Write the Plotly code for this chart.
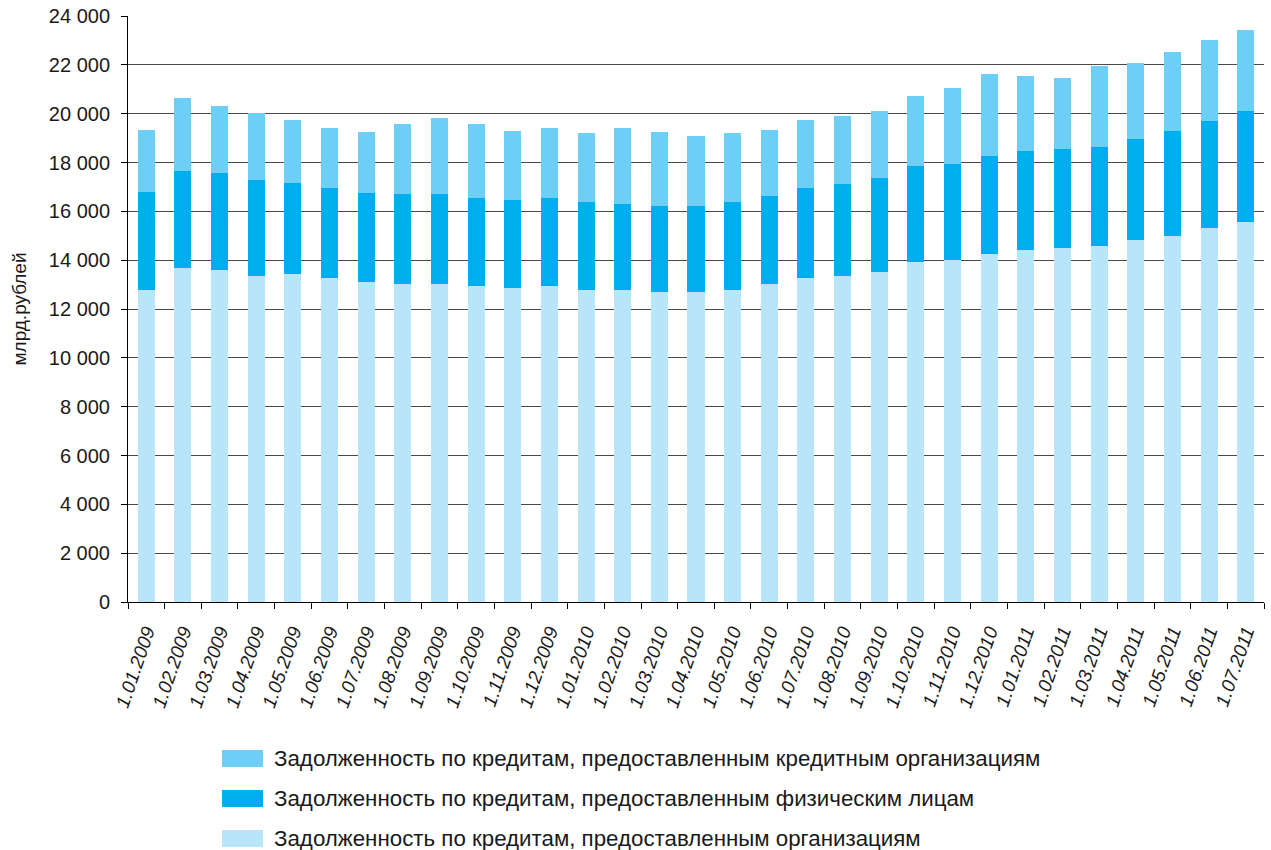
import plotly.graph_objects as go

categories = ["1.01.2009", "1.02.2009", "1.03.2009", "1.04.2009", "1.05.2009", "1.06.2009",
              "1.07.2009", "1.08.2009", "1.09.2009", "1.10.2009", "1.11.2009", "1.12.2009",
              "1.01.2010", "1.02.2010", "1.03.2010", "1.04.2010", "1.05.2010", "1.06.2010",
              "1.07.2010", "1.08.2010", "1.09.2010", "1.10.2010", "1.11.2010", "1.12.2010",
              "1.01.2011", "1.02.2011", "1.03.2011", "1.04.2011", "1.05.2011", "1.06.2011",
              "1.07.2011"]

# Задолженность по кредитам, предоставленным организациям (bottom)
loans_orgs = [12780, 13670, 13590, 13350, 13430, 13270, 13100, 13020, 13020, 12940, 12860,
              12940, 12780, 12780, 12690, 12690, 12780, 13020, 13270, 13350, 13510, 13920,
              14000, 14250, 14410, 14490, 14570, 14820, 14980, 15310, 15550]

# Задолженность по кредитам, предоставленным физическим лицам (middle)
loans_persons = [4000, 4000, 4000, 3920, 3750, 3670, 3670, 3670, 3670, 3590, 3590,
                 3590, 3590, 3510, 3510, 3510, 3590, 3590, 3670, 3750, 3840, 3920,
                 3920, 4000, 4080, 4080, 4080, 4160, 4330, 4410, 4570]

# Задолженность по кредитам, предоставленным кредитным организациям (top)
loans_banks = [2570, 2980, 2740, 2760, 2570, 2490, 2490, 2900, 3140, 3060, 2820,
               2900, 2820, 3140, 3060, 2900, 2820, 2740, 2820, 2820, 2740, 2900,
               3140, 3390, 3060, 2900, 3310, 3090, 3230, 3310, 3310]

series_names = ["Задолженность по кредитам, предоставленным организациям",
                "Задолженность по кредитам, предоставленным физическим лицам",
                "Задолженность по кредитам, предоставленным кредитным организациям"]
series_values = [loans_orgs, loans_persons, loans_banks]
colors = ["#b9e5f9", "#00aeef", "#6dcff6"]

y_ticks = list(range(0, 24001, 2000))

FONT = "Liberation Sans, Arial, Helvetica, sans-serif"

fig = go.Figure()
for name, vals, col in zip(series_names, series_values, colors):
    fig.add_trace(go.Bar(x=categories, y=vals, name=name, marker_color=col,
                         marker_line_width=0, showlegend=False))

# manual legend (top item = top of the stack)
W, H = 1271, 850
L, R, T, B = 128, 7, 16, 248
pw, ph = W - L - R, H - T - B

def px_x(px):
    return (px - L) / pw

def px_y(py):
    return (H - B - py) / ph

shapes = []
annotations = []
legend_order = [2, 1, 0]
for i, idx in enumerate(legend_order):
    cy = 758.5 + 40 * i
    shapes.append(dict(type="rect", xref="paper", yref="paper",
                       x0=px_x(222), x1=px_x(263), y0=px_y(cy - 8.5), y1=px_y(cy + 8.5),
                       fillcolor=colors[idx], line_width=0))
    annotations.append(dict(xref="paper", yref="paper", x=px_x(272), y=px_y(cy),
                            xanchor="left", yanchor="middle", showarrow=False,
                            text=series_names[idx],
                            font=dict(family=FONT, size=22.3, color="#1a1a1a")))

fig.update_layout(
    barmode="stack",
    bargap=0.535,
    width=W, height=H,
    margin=dict(l=L, r=R, t=T, b=B, autoexpand=False),
    paper_bgcolor="white", plot_bgcolor="white",
    separators=", ",
    font=dict(family=FONT, color="#1a1a1a"),
    shapes=shapes,
    annotations=annotations,
    showlegend=False,
    xaxis=dict(
        type="category",
        showline=True, linecolor="black", linewidth=1,
        ticks="outside", tickson="boundaries", ticklen=6, tickcolor="black", tickwidth=1,
        tickangle=-71,
        ticklabelstandoff=10,
        tickfont=dict(family=FONT, size=19, color="#1a1a1a", style="italic"),
        showgrid=False,
        automargin=False,
    ),
    yaxis=dict(
        range=[0, 24000],
        tickvals=y_ticks,
        tickformat=",d",
        showline=True, linecolor="black", linewidth=1,
        ticks="outside", ticklen=6, tickcolor="black", tickwidth=1,
        ticklabelstandoff=7,
        tickfont=dict(family=FONT, size=20, color="#1a1a1a"),
        showgrid=True, gridcolor="#4a4a4a", gridwidth=1.4,
        zeroline=False,
        title=dict(text="млрд.рублей", font=dict(family=FONT, size=19, color="#1a1a1a"),
                   standoff=17),
        automargin=False,
    ),
)

fig.write_html("out.html",
               config={"displayModeBar": False},
               post_script="document.body.style.margin='0';document.body.style.overflow='hidden';")
